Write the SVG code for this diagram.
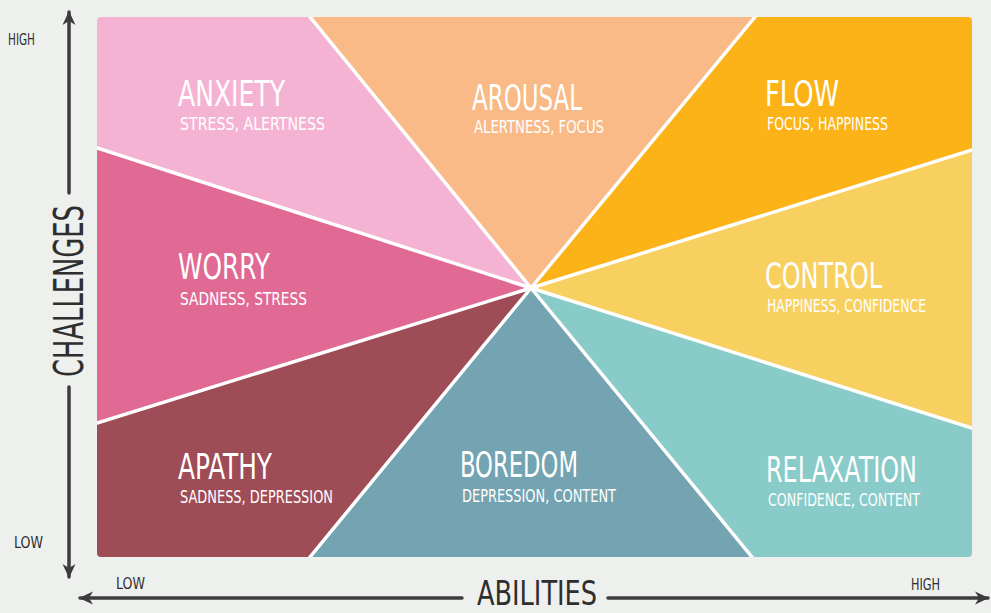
<svg xmlns="http://www.w3.org/2000/svg" width="991" height="613" viewBox="0 0 991 613">
  <style>
    .title { font-family: "Liberation Sans Narrow", "DejaVu Sans Condensed", "Liberation Sans", sans-serif; font-size: 36px; fill: #ffffff; }
    .sub { font-family: "Liberation Sans Narrow", "DejaVu Sans Condensed", "Liberation Sans", sans-serif; font-size: 18px; fill: #ffffff; }
    .axis { font-family: "Liberation Sans Narrow", "DejaVu Sans Condensed", "Liberation Sans", sans-serif; fill: #2e2e2e; }
    .tick { font-size: 15px; }
    .big { font-size: 40px; }
    .sep { stroke: #ffffff; stroke-width: 3.5; stroke-linecap: round; fill: none; }
    .arrow { stroke: #3c3c3c; stroke-width: 3.5; fill: none; stroke-linecap: round; }
  </style>
  <defs>
    <clipPath id="panel">
      <rect x="97" y="17" width="875" height="540" rx="4" ry="4"/>
    </clipPath>
    <marker id="head" viewBox="-14 -8 16 16" markerWidth="16" markerHeight="16" markerUnits="userSpaceOnUse" refX="0" refY="0" orient="auto">
      <path d="M1,0 L-13,-6.5 L-9,0 L-13,6.5 Z" fill="#3c3c3c"/>
    </marker>
  </defs>

  <rect width="991" height="613" fill="#eef0ee"/>

  <!-- the eight sectors around the shared centre (531,288) -->
  <g clip-path="url(#panel)">
    <g id="anxiety">
      <polygon points="97,17 310,17 531,288 97,148" fill="#f5b3d4"/>
      <text class="title" x="178" y="106" textLength="107" lengthAdjust="spacingAndGlyphs">ANXIETY</text>
      <text class="sub" x="180" y="130" textLength="145" lengthAdjust="spacingAndGlyphs">STRESS, ALERTNESS</text>
    </g>
    <g id="arousal">
      <polygon points="310,17 755,17 531,288" fill="#f9ba87"/>
      <text class="title" x="472" y="110" textLength="110" lengthAdjust="spacingAndGlyphs">AROUSAL</text>
      <text class="sub" x="474" y="133" textLength="130" lengthAdjust="spacingAndGlyphs">ALERTNESS, FOCUS</text>
    </g>
    <g id="flow">
      <polygon points="755,17 972,17 972,150 531,288" fill="#fcb317"/>
      <text class="title" x="765" y="106" textLength="74" lengthAdjust="spacingAndGlyphs">FLOW</text>
      <text class="sub" x="767" y="130" textLength="121" lengthAdjust="spacingAndGlyphs">FOCUS, HAPPINESS</text>
    </g>
    <g id="control">
      <polygon points="972,150 972,428 531,288" fill="#f8d060"/>
      <text class="title" x="765" y="288" textLength="117" lengthAdjust="spacingAndGlyphs">CONTROL</text>
      <text class="sub" x="767" y="312" textLength="159" lengthAdjust="spacingAndGlyphs">HAPPINESS, CONFIDENCE</text>
    </g>
    <g id="relaxation">
      <polygon points="972,428 972,557 752,557 531,288" fill="#88cbc9"/>
      <text class="title" x="766" y="482" textLength="151" lengthAdjust="spacingAndGlyphs">RELAXATION</text>
      <text class="sub" x="768" y="506" textLength="152" lengthAdjust="spacingAndGlyphs">CONFIDENCE, CONTENT</text>
    </g>
    <g id="boredom">
      <polygon points="752,557 310,557 531,288" fill="#74a3b1"/>
      <text class="title" x="460" y="477" textLength="118" lengthAdjust="spacingAndGlyphs">BOREDOM</text>
      <text class="sub" x="462" y="502" textLength="154" lengthAdjust="spacingAndGlyphs">DEPRESSION, CONTENT</text>
    </g>
    <g id="apathy">
      <polygon points="310,557 97,557 97,423 531,288" fill="#9e4c56"/>
      <text class="title" x="178" y="479" textLength="94" lengthAdjust="spacingAndGlyphs">APATHY</text>
      <text class="sub" x="180" y="503" textLength="153" lengthAdjust="spacingAndGlyphs">SADNESS, DEPRESSION</text>
    </g>
    <g id="worry">
      <polygon points="97,423 97,148 531,288" fill="#e06a94"/>
      <text class="title" x="178" y="279" textLength="92" lengthAdjust="spacingAndGlyphs">WORRY</text>
      <text class="sub" x="180" y="305" textLength="127" lengthAdjust="spacingAndGlyphs">SADNESS, STRESS</text>
    </g>

    <!-- white dividers between sectors -->
    <g id="dividers">
      <line class="sep" x1="531" y1="288" x2="310" y2="17"/>
      <line class="sep" x1="531" y1="288" x2="755" y2="17"/>
      <line class="sep" x1="531" y1="288" x2="972" y2="150"/>
      <line class="sep" x1="531" y1="288" x2="972" y2="428"/>
      <line class="sep" x1="531" y1="288" x2="752" y2="557"/>
      <line class="sep" x1="531" y1="288" x2="310" y2="557"/>
      <line class="sep" x1="531" y1="288" x2="97" y2="423"/>
      <line class="sep" x1="531" y1="288" x2="97" y2="148"/>
    </g>
  </g>

  <!-- axes -->
  <g id="connectors">
    <line class="arrow" x1="69" y1="193" x2="69" y2="12" marker-end="url(#head)"/>
    <line class="arrow" x1="69" y1="387" x2="69" y2="577" marker-end="url(#head)"/>
    <line class="arrow" x1="462" y1="598" x2="80" y2="598" marker-end="url(#head)"/>
    <line class="arrow" x1="608" y1="598" x2="988" y2="598" marker-end="url(#head)"/>
  </g>

  <g id="axis-labels">
    <text class="axis tick" x="8" y="45" textLength="27" lengthAdjust="spacingAndGlyphs">HIGH</text>
    <text class="axis tick" x="14" y="548" textLength="29" lengthAdjust="spacingAndGlyphs">LOW</text>
    <text class="axis tick" x="116" y="589" textLength="29" lengthAdjust="spacingAndGlyphs">LOW</text>
    <text class="axis tick" x="911" y="590" textLength="29" lengthAdjust="spacingAndGlyphs">HIGH</text>
    <text class="axis big" transform="translate(83,377) rotate(-90)" x="0" y="0" textLength="172" lengthAdjust="spacingAndGlyphs">CHALLENGES</text>
    <text class="axis big" x="477" y="605" style="font-size:34px" textLength="120" lengthAdjust="spacingAndGlyphs">ABILITIES</text>
  </g>
</svg>
